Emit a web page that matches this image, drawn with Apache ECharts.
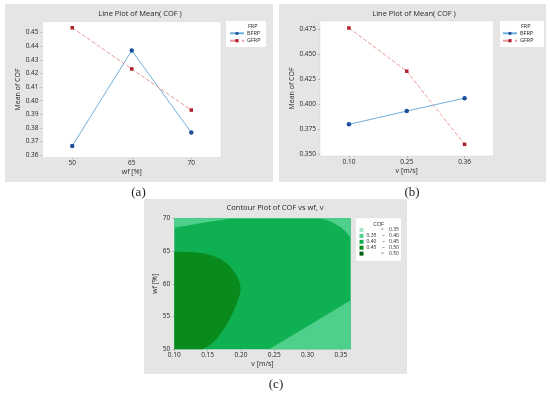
<!DOCTYPE html>
<html><head><meta charset="utf-8">
<script src="https://cdn.jsdelivr.net/npm/echarts@6/dist/echarts.min.js"></script>
<style>html,body{margin:0;padding:0;background:#fff;}#c{width:550px;height:393px;}</style>
</head><body><div id="c"></div>
<script>
// ---- data ----
const seriesNames = ['BFRP', 'GFRP'];
const wfLevels = ['50', '65', '70'];
const bfrpByWf = [0.3668, 0.4368, 0.3767];
const gfrpByWf = [0.4535, 0.4233, 0.3931];
const vLevels = ['0.10', '0.25', '0.36'];
const bfrpByV = [0.3797, 0.3930, 0.4060];
const gfrpByV = [0.4763, 0.4330, 0.3597];
// contour (v [m/s], wf [%]) region boundaries
const cofBandLabels = [['<', '', '0.35'], ['0.35', '–', '0.40'], ['0.40', '–', '0.45'], ['0.45', '–', '0.50'], ['>', '', '0.50']];
const cofBandColors = ['#a3e8c6', '#4fcf8c', '#0fb052', '#088a1c', '#005c12'];
const vRange = [0.10, 0.3648];
const wfRange = [50, 70];
const regionMid = [[0.10, 50], [0.10, 70], [0.3648, 70], [0.3648, 50]];
const regionTopLeft = [[0.10, 68.56], [0.10, 70], [0.1885, 70], [0.145, 69.35]];
const regionTopRight = [[0.3186, 70], [0.3648, 70], [0.3648, 67.0], [0.358, 67.9], [0.349, 68.7], [0.335, 69.5]];
const regionBottomRight = [[0.2425, 50], [0.3648, 50], [0.3648, 57.5]];
const regionDark = [[0.10, 50], [0.10, 64.9], [0.115, 64.88], [0.13, 64.8], [0.145, 64.62], [0.158, 64.3], [0.168, 63.85], [0.177, 63.25], [0.184, 62.6], [0.19, 61.85], [0.195, 61.0], [0.198, 60.2], [0.1995, 59.4], [0.199, 58.6], [0.196, 57.6], [0.192, 56.5], [0.187, 55.4], [0.18, 54.0], [0.172, 52.7], [0.163, 51.5], [0.153, 50.6], [0.143, 50]];
const contourRegions = [
  { band: 2, pts: regionMid },
  { band: 1, pts: regionTopLeft },
  { band: 1, pts: regionTopRight },
  { band: 1, pts: regionBottomRight },
  { band: 3, pts: regionDark }
];

// ---- styles ----
const FONT = 'Open Sans';
const TXT = '#262626';
const blueLine = '#6eb0dc', blueDot = '#1d4f9a';
const redLine = '#e89a98', redDot = '#b0202a';
const GRAY = '#e5e5e5';

function lineSeries(name, data, xi) {
  const isB = name === 'BFRP';
  return {
    type: 'line', name: name, data: data, xAxisIndex: xi, yAxisIndex: xi,
    symbol: isB ? 'circle' : 'rect', symbolSize: isB ? 4.5 : 3.5,
    lineStyle: { color: isB ? blueLine : redLine, width: 1, type: isB ? 'solid' : 'dashed' },
    itemStyle: { color: isB ? blueDot : redDot },
    emphasis: { disabled: true }, animation: false
  };
}
function catX(gi, data, name) {
  return {
    type: 'category', gridIndex: gi, data: data, boundaryGap: true,
    name: name, nameLocation: 'middle', nameGap: 11,
    nameTextStyle: { fontFamily: FONT, fontSize: 7, color: TXT },
    axisLine: { show: false }, splitLine: { show: false },
    axisTick: { show: true, alignWithLabel: true, length: 2, lineStyle: { color: '#999', width: 0.6 } },
    axisLabel: { margin: 2.5, fontFamily: FONT, fontSize: 6.5, color: TXT }
  };
}
function valY(gi, min, max, step, dec, gap) {
  return {
    type: 'value', gridIndex: gi, min: min, max: max, minInterval: step, maxInterval: step,
    name: 'Mean of COF', nameLocation: 'middle', nameRotate: 90, nameGap: gap,
    nameTextStyle: { fontFamily: FONT, fontSize: 7, color: TXT },
    axisLine: { show: false }, splitLine: { show: false },
    axisTick: { show: true, length: 2, lineStyle: { color: '#999', width: 0.6 } },
    axisLabel: { margin: 4, fontFamily: FONT, fontSize: 6.5, color: TXT, showMinLabel: false, showMaxLabel: false,
      formatter: v => v.toFixed(dec) }
  };
}

const graphics = [
  { type: 'rect', z: -100, shape: { x: 5, y: 4, width: 268, height: 178 }, style: { fill: GRAY } },
  { type: 'rect', z: -100, shape: { x: 279, y: 4, width: 267, height: 178 }, style: { fill: GRAY } },
  { type: 'rect', z: -100, shape: { x: 144, y: 199, width: 263, height: 175 }, style: { fill: GRAY } },
  { type: 'rect', z: -50, shape: { x: 226, y: 21, width: 40, height: 26 }, style: { fill: '#fff' } },
  { type: 'rect', z: -50, shape: { x: 500, y: 21, width: 44, height: 26 }, style: { fill: '#fff' } },
  { type: 'rect', z: 50, shape: { x: 356, y: 218.3, width: 45, height: 42.5 }, style: { fill: '#fff' } }
];
function txt(x, y, s, size, align, family, extra) {
  return Object.assign({ type: 'text', z: 60, x: x, y: y,
    style: { text: s, font: size + 'px "' + (family || FONT) + '"', fill: TXT, textAlign: align || 'left', align: align || 'left', textVerticalAlign: 'middle', verticalAlign: 'middle' } }, extra || {});
}
graphics.push(txt(140, 13.5, 'Line Plot of Mean( COF )', 7.5, 'center'));
graphics.push(txt(414, 13.5, 'Line Plot of Mean( COF )', 7.5, 'center'));
graphics.push(txt(275, 207.5, 'Contour Plot of COF vs wf, v', 7.5, 'center'));
graphics.push(txt(248, 26, 'FRP', 5.5, 'left'));
graphics.push(txt(521, 26, 'FRP', 5.5, 'left'));
graphics.push(txt(138.5, 193, '(a)', 13, 'center', 'Liberation Serif'));
graphics.push(txt(412, 193, '(b)', 13, 'center', 'Liberation Serif'));
graphics.push(txt(276, 385, '(c)', 13, 'center', 'Liberation Serif'));
// contour legend
graphics.push(txt(378.5, 224.5, 'COF', 5.5, 'center'));
cofBandLabels.forEach((lab, i) => {
  const y = 230 + i * 5.9;
  graphics.push({ type: 'rect', z: 60, shape: { x: 359.5, y: y - 2, width: 4, height: 4 }, style: { fill: cofBandColors[i] } });
  if (lab[1] === '') {
    graphics.push(txt(382.5, y, lab[0], 5, 'center'));
  } else {
    graphics.push(txt(366.5, y, lab[0], 5, 'left'));
    graphics.push(txt(383.5, y, lab[1], 5, 'center'));
  }
  graphics.push(txt(389, y, lab[2], 5, 'left'));
});

const option = {
  animation: false,
  backgroundColor: '#fff',
  graphic: { elements: graphics },
  grid: [
    { left: 42.5, top: 21.5, width: 178.5, height: 136, show: true, backgroundColor: '#fff', borderColor: '#d6d6d6', borderWidth: 0.5 },
    { left: 320, top: 21, width: 173.5, height: 135, show: true, backgroundColor: '#fff', borderColor: '#d6d6d6', borderWidth: 0.5 },
    { left: 174.3, top: 218.3, width: 176.4, height: 131, show: false }
  ],
  legend: [0, 1].map(i => ({
    data: seriesNames, orient: 'vertical', left: i === 0 ? 229 : 502, top: 30.3,
    itemWidth: 14, itemHeight: 4, itemGap: 1.4, padding: 0, selectedMode: false,
    textStyle: { fontFamily: FONT, fontSize: 5.5, lineHeight: 6, color: TXT, padding: [0, 0, 0, -2] }
  })),
  xAxis: [
    catX(0, wfLevels, 'wf [%]'),
    catX(1, vLevels, 'v [m/s]'),
    {
      type: 'value', gridIndex: 2, min: vRange[0], max: vRange[1], interval: 0.05,
      name: 'v [m/s]', nameLocation: 'middle', nameGap: 11,
      nameTextStyle: { fontFamily: FONT, fontSize: 7, color: TXT },
      axisLine: { show: false }, splitLine: { show: false },
      axisTick: { show: true, length: 2, lineStyle: { color: '#999', width: 0.6 } },
      axisLabel: { margin: 2.5, fontFamily: FONT, fontSize: 6.5, color: TXT, showMaxLabel: false, formatter: v => v.toFixed(2) }
    }
  ],
  yAxis: [
    valY(0, 0.3583, 0.4581, 0.01, 2, 21),
    valY(1, 0.348, 0.4833, 0.025, 3, 24),
    {
      type: 'value', gridIndex: 2, min: wfRange[0], max: wfRange[1], interval: 5,
      name: 'wf [%]', nameLocation: 'middle', nameRotate: 90, nameGap: 14,
      nameTextStyle: { fontFamily: FONT, fontSize: 7, color: TXT },
      axisLine: { show: false }, splitLine: { show: false },
      axisTick: { show: true, length: 2, lineStyle: { color: '#999', width: 0.6 } },
      axisLabel: { margin: 4, fontFamily: FONT, fontSize: 6.5, color: TXT }
    }
  ],
  series: [
    lineSeries('BFRP', bfrpByWf, 0),
    lineSeries('GFRP', gfrpByWf, 0),
    lineSeries('BFRP', bfrpByV, 1),
    lineSeries('GFRP', gfrpByV, 1),
    {
      type: 'custom', xAxisIndex: 2, yAxisIndex: 2, silent: true, animation: false,
      data: contourRegions.map((r, i) => [r.pts[0][0], r.pts[0][1], i]),
      renderItem: function (params, api) {
        const reg = contourRegions[params.dataIndex];
        return { type: 'polygon', shape: { points: reg.pts.map(p => api.coord(p)) },
          style: { fill: cofBandColors[reg.band], stroke: null } };
      }
    }
  ]
};
const chart = echarts.init(document.getElementById('c'), null, { renderer: 'canvas' });
chart.setOption(option);
</script></body></html>
